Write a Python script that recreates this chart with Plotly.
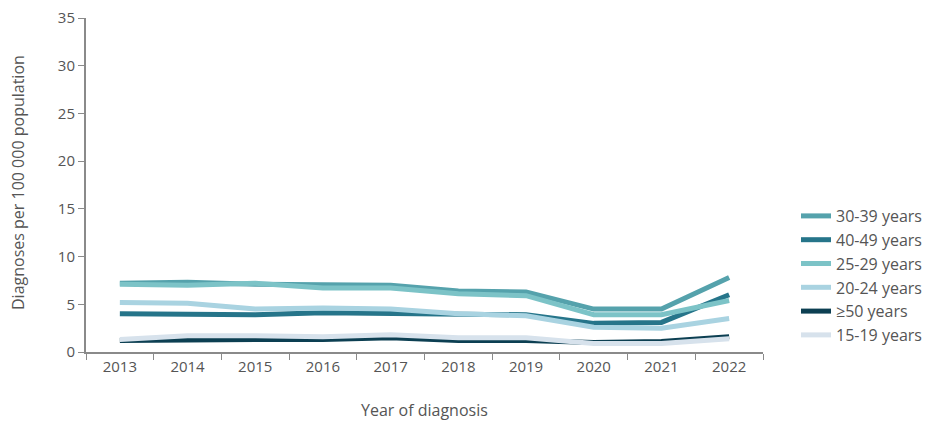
import plotly.graph_objects as go

years = ["2013", "2014", "2015", "2016", "2017", "2018", "2019", "2020", "2021", "2022"]
s30_39 = [7.2, 7.3, 7.1, 7.1, 7.0, 6.4, 6.3, 4.5, 4.5, 7.8]
s40_49 = [4.0, 4.0, 3.9, 4.1, 4.0, 3.9, 3.9, 3.0, 3.1, 6.0]
s25_29 = [7.1, 7.0, 7.2, 6.7, 6.7, 6.1, 5.9, 3.9, 3.9, 5.4]
s20_24 = [5.2, 5.1, 4.5, 4.6, 4.5, 4.0, 3.8, 2.6, 2.5, 3.5]
s50 = [1.2, 1.3, 1.3, 1.3, 1.5, 1.2, 1.2, 1.0, 1.1, 1.6]
s15_19 = [1.3, 1.7, 1.7, 1.6, 1.8, 1.5, 1.5, 0.9, 0.9, 1.4]

names = ["30-39 years", "40-49 years", "25-29 years", "20-24 years", "≥50 years", "15-19 years"]
series = [s30_39, s40_49, s25_29, s20_24, s50, s15_19]
colors = ["#55a2ac", "#26758a", "#7cc3c7", "#a9d3e1", "#0c3f52", "#d7e2ec"]

fig = go.Figure()
for n, s, c in zip(names, series, colors):
    fig.add_trace(go.Scatter(x=years, y=s, name=n, mode="lines",
                             line=dict(color=c, width=5)))

txt = "#555555"
axc = "#8a8a8a"
W, H = 930, 415
L, T = 78, 10
PW, PH = 677, 334
fig.update_layout(
    width=W, height=H,
    margin=dict(l=L, r=W - L - PW, t=T, b=H - T - PH, autoexpand=False),
    plot_bgcolor="white", paper_bgcolor="white",
    font=dict(family="Open Sans", size=15, color=txt),
    legend=dict(x=(788 - L) / PW, y=(T + PH - 191) / PH, xanchor="left", yanchor="top",
                font=dict(size=16, color=txt), tracegroupgap=0,
                itemwidth=30),
    xaxis=dict(type="category", range=[-0.5, 9.5], tickson="boundaries",
               ticks="outside", ticklen=6, tickcolor=axc, showline=True,
               linecolor=axc, linewidth=2, showgrid=False, automargin=False,
               tickfont=dict(size=15, color=txt)),
    yaxis=dict(range=[0, 35], dtick=5, ticks="outside", ticklen=6, tickcolor=axc,
               showline=True, linecolor=axc, linewidth=2, showgrid=False, zeroline=False,
               automargin=False, ticklabeloverflow="allow",
               tickfont=dict(size=15, color=txt)),
    annotations=[
        dict(text="Year of diagnosis", xref="paper", yref="paper", x=0.5,
             y=(T + PH - 402) / PH, xanchor="center", yanchor="middle",
             showarrow=False, font=dict(size=16, color=txt)),
        dict(text="Diagnoses per 100 000 population", xref="paper", yref="paper",
             x=(10 - L) / PW, y=(T + PH - 175) / PH, textangle=-90,
             xanchor="center", yanchor="middle",
             showarrow=False, font=dict(size=16, color=txt)),
    ],
)
fig.write_html("out.html")
